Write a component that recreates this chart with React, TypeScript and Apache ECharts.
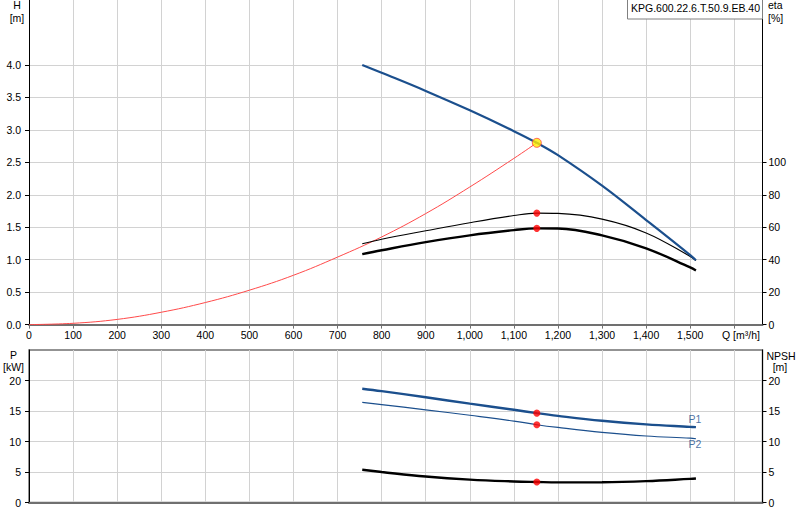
import React, { useEffect, useRef } from "react";
import * as echarts from "echarts";

// ---- data ----
const qPump = [756, 800, 900, 1000, 1100, 1152, 1200, 1300, 1400, 1500, 1513];
const headH = [4.0, 3.88, 3.6, 3.3, 2.98, 2.8, 2.61, 2.14, 1.61, 1.07, 0.99];
const etaUpper = [49.8, 52.6, 57.8, 62.8, 67.2, 68.7, 68.5, 65.0, 56.5, 42.0, 39.5];
const etaLower = [43.4, 45.8, 50.8, 55.0, 58.2, 59.3, 59.2, 55.0, 47.0, 35.2, 33.3];
const powerP1 = [18.65, 18.25, 17.25, 16.2, 15.2, 14.65, 14.2, 13.4, 12.8, 12.4, 12.35];
const powerP2 = [16.4, 16.05, 15.2, 14.3, 13.35, 12.75, 12.3, 11.5, 10.9, 10.55, 10.45];
const npshR = [5.36, 5.0, 4.26, 3.75, 3.45, 3.36, 3.3, 3.32, 3.5, 3.88, 3.94];

const qSystem = [0, 100, 200, 300, 400, 500, 600, 700, 800, 900, 1000, 1100, 1152];
const hSystem = [0, 0.02, 0.08, 0.19, 0.34, 0.53, 0.76, 1.04, 1.35, 1.71, 2.12, 2.56, 2.8];

const opQ = 1152;
const opH = 2.8;
const opEtaUpper = 68.7;
const opEtaLower = 59.3;
const opP1 = 14.65;
const opP2 = 12.75;
const opNpsh = 3.36;

const qTickLabels = [0, 100, 200, 300, 400, 500, 600, 700, 800, 900, 1000, 1100, 1200, 1300, 1400, 1500];
const qTicks = [...qTickLabels, 1600];
const hTicks = [0, 0.5, 1.0, 1.5, 2.0, 2.5, 3.0, 3.5, 4.0];
const etaTicks = [0, 20, 40, 60, 80, 100];
const pTicks = [0, 5, 10, 15, 20];
const npshTicks = [0, 5, 10, 15, 20];

const pumpName = "KPG.600.22.6.T.50.9.EB.40";

const FONT = '"Liberation Sans", Arial, sans-serif';
const FS = 10.5;
const BLUE = "#1b4f8d";
const GRID = "#d2d2d2";
const AXIS_GRAY = "#707070";

const zip = (xs: number[], ys: number[]) => xs.map((x, i) => [x, ys[i]]);

export default function App() {
  const ref = useRef<HTMLDivElement>(null);

  useEffect(() => {
    if (!ref.current) return;
    const chart = echarts.init(ref.current, undefined, { renderer: "svg" });

    const labelStyle = { color: "#000", fontFamily: FONT, fontSize: FS };

    const option: any = {
      animation: false,
      backgroundColor: "#fff",
      grid: [
        { left: 29, right: 37.5, top: 0, height: 324.6, show: false },
        {
          left: 29,
          right: 37.5,
          top: 350,
          height: 152.5,
          show: true,
          borderColor: AXIS_GRAY,
          borderWidth: 1.5,
          backgroundColor: "transparent",
        },
      ],
      xAxis: [
        {
          type: "value",
          gridIndex: 0,
          min: 0,
          max: 1664,
          interval: 100,
          axisLine: { show: true, onZero: false, lineStyle: { color: AXIS_GRAY, width: 2 } },
          axisTick: { show: true, length: 4, customValues: qTicks, lineStyle: { color: AXIS_GRAY } },
          axisLabel: {
            ...labelStyle,
            margin: 5,
            customValues: qTickLabels,
            formatter: (v: number) => v.toLocaleString("en-US"),
          },
          splitLine: { show: true, lineStyle: { color: GRID, width: 1 } },
        },
        {
          type: "value",
          gridIndex: 1,
          min: 0,
          max: 1664,
          interval: 100,
          axisLine: { show: true, onZero: false, lineStyle: { color: AXIS_GRAY, width: 2 } },
          axisTick: { show: false },
          axisLabel: { show: false },
          splitLine: { show: true, lineStyle: { color: GRID, width: 1 } },
        },
      ],
      yAxis: [
        {
          type: "value",
          gridIndex: 0,
          position: "left",
          min: 0,
          max: 5,
          interval: 0.5,
          axisLine: { show: true, onZero: false, lineStyle: { color: "#000", width: 1 } },
          axisTick: { show: true, length: 4, customValues: hTicks, lineStyle: { color: "#000" } },
          axisLabel: {
            ...labelStyle,
            margin: 8,
            customValues: hTicks,
            formatter: (v: number) => v.toFixed(1),
          },
          splitLine: { show: true, lineStyle: { color: GRID, width: 1 } },
        },
        {
          type: "value",
          gridIndex: 0,
          position: "right",
          min: 0,
          max: 200,
          interval: 20,
          axisLine: { show: true, onZero: false, lineStyle: { color: "#000", width: 1 } },
          axisTick: { show: true, length: 4, customValues: etaTicks, lineStyle: { color: "#000" } },
          axisLabel: { ...labelStyle, margin: 6, customValues: etaTicks },
          splitLine: { show: false },
        },
        {
          type: "value",
          gridIndex: 1,
          position: "left",
          min: 0,
          max: 25,
          interval: 5,
          axisLine: { show: true, onZero: false, lineStyle: { color: "#000", width: 1 } },
          axisTick: { show: true, length: 4, customValues: pTicks, lineStyle: { color: "#000" } },
          axisLabel: { ...labelStyle, margin: 8, customValues: pTicks },
          splitLine: { show: true, lineStyle: { color: GRID, width: 1 } },
        },
        {
          type: "value",
          gridIndex: 1,
          position: "right",
          min: 0,
          max: 25,
          interval: 5,
          axisLine: { show: true, onZero: false, lineStyle: { color: "#000", width: 1 } },
          axisTick: { show: true, length: 4, customValues: npshTicks, lineStyle: { color: "#000" } },
          axisLabel: { ...labelStyle, margin: 6, customValues: npshTicks },
          splitLine: { show: false },
        },
      ],
      series: [
        {
          name: "system",
          type: "line",
          xAxisIndex: 0,
          yAxisIndex: 0,
          data: zip(qSystem, hSystem),
          smooth: 0.4,
          showSymbol: false,
          lineStyle: { color: "#ff4a4a", width: 1 },
          z: 3,
        },
        {
          name: "H",
          type: "line",
          xAxisIndex: 0,
          yAxisIndex: 0,
          data: zip(qPump, headH),
          smooth: 0.4,
          showSymbol: false,
          lineStyle: { color: BLUE, width: 2.2 },
          z: 4,
        },
        {
          name: "eta1",
          type: "line",
          xAxisIndex: 0,
          yAxisIndex: 1,
          data: zip(qPump, etaUpper),
          smooth: 0.4,
          showSymbol: false,
          lineStyle: { color: "#000", width: 1.1 },
          z: 3,
        },
        {
          name: "eta2",
          type: "line",
          xAxisIndex: 0,
          yAxisIndex: 1,
          data: zip(qPump, etaLower),
          smooth: 0.4,
          showSymbol: false,
          lineStyle: { color: "#000", width: 2.4 },
          z: 3,
        },
        {
          name: "opEta",
          type: "scatter",
          xAxisIndex: 0,
          yAxisIndex: 1,
          data: [
            [opQ, opEtaUpper],
            [opQ, opEtaLower],
          ],
          symbolSize: 7,
          itemStyle: { color: "#ff0000" },
          z: 6,
        },
        {
          name: "opH",
          type: "scatter",
          xAxisIndex: 0,
          yAxisIndex: 0,
          data: [[opQ, opH]],
          symbolSize: 9,
          itemStyle: { color: "#ffee00", borderColor: "#ff4040", borderWidth: 1 },
          z: 7,
        },
        {
          name: "P1",
          type: "line",
          xAxisIndex: 1,
          yAxisIndex: 2,
          data: zip(qPump, powerP1),
          smooth: 0.4,
          showSymbol: false,
          lineStyle: { color: BLUE, width: 2.4 },
          z: 4,
        },
        {
          name: "P2",
          type: "line",
          xAxisIndex: 1,
          yAxisIndex: 2,
          data: zip(qPump, powerP2),
          smooth: 0.4,
          showSymbol: false,
          lineStyle: { color: BLUE, width: 1.2 },
          z: 4,
        },
        {
          name: "NPSH",
          type: "line",
          xAxisIndex: 1,
          yAxisIndex: 3,
          data: zip(qPump, npshR),
          smooth: 0.4,
          showSymbol: false,
          lineStyle: { color: "#000", width: 2.4 },
          z: 4,
        },
        {
          name: "opP",
          type: "scatter",
          xAxisIndex: 1,
          yAxisIndex: 2,
          data: [
            [opQ, opP1],
            [opQ, opP2],
          ],
          symbolSize: 7,
          itemStyle: { color: "#ff0000" },
          z: 6,
        },
        {
          name: "opNpsh",
          type: "scatter",
          xAxisIndex: 1,
          yAxisIndex: 3,
          data: [[opQ, opNpsh]],
          symbolSize: 7,
          itemStyle: { color: "#ff0000" },
          z: 6,
        },
        {
          name: "curveLabels",
          type: "scatter",
          xAxisIndex: 1,
          yAxisIndex: 2,
          symbolSize: 0,
          silent: true,
          data: [
            {
              value: [qPump[qPump.length - 1], powerP1[powerP1.length - 1]],
              label: { show: true, position: "top", distance: 3, formatter: "P1" },
            },
            {
              value: [qPump[qPump.length - 1], powerP2[powerP2.length - 1]],
              label: { show: true, position: "bottom", distance: 0, formatter: "P2" },
            },
          ],
          label: { color: BLUE, fontFamily: FONT, fontSize: FS, offset: [-1, 0] },
          z: 6,
        },
      ],
      graphic: [
        {
          type: "rect",
          shape: { x: 627.5, y: -1, width: 135, height: 20 },
          style: { fill: "#fff", stroke: "#808080", lineWidth: 1 },
          z: 100,
        },
        {
          type: "text",
          x: 631,
          y: 8,
          style: { text: pumpName, fill: "#000", font: `${FS}px ${FONT}`, verticalAlign: "middle", align: "left" },
          z: 101,
        },
        {
          type: "text",
          x: 17,
          y: 5,
          style: { text: "H", fill: "#000", font: `${FS}px ${FONT}`, align: "center", verticalAlign: "middle" },
        },
        {
          type: "text",
          x: 17,
          y: 17.5,
          style: { text: "[m]", fill: "#000", font: `${FS}px ${FONT}`, align: "center", verticalAlign: "middle" },
        },
        {
          type: "text",
          x: 768,
          y: 5,
          style: { text: "eta", fill: "#000", font: `${FS}px ${FONT}`, align: "left", verticalAlign: "middle" },
        },
        {
          type: "text",
          x: 768,
          y: 17.5,
          style: { text: "[%]", fill: "#000", font: `${FS}px ${FONT}`, align: "left", verticalAlign: "middle" },
        },
        {
          type: "text",
          x: 722,
          y: 335,
          style: { text: "Q [m³/h]", fill: "#000", font: `${FS}px ${FONT}`, align: "left", verticalAlign: "middle" },
        },
        {
          type: "text",
          x: 13.5,
          y: 355,
          style: { text: "P", fill: "#000", font: `${FS}px ${FONT}`, align: "center", verticalAlign: "middle" },
        },
        {
          type: "text",
          x: 13.5,
          y: 366.5,
          style: { text: "[kW]", fill: "#000", font: `${FS}px ${FONT}`, align: "center", verticalAlign: "middle" },
        },
        {
          type: "text",
          x: 781,
          y: 355.5,
          style: { text: "NPSH", fill: "#000", font: `${FS}px ${FONT}`, align: "center", verticalAlign: "middle" },
        },
        {
          type: "text",
          x: 780,
          y: 366.5,
          style: { text: "[m]", fill: "#000", font: `${FS}px ${FONT}`, align: "center", verticalAlign: "middle" },
        },
      ],
    };

    chart.setOption(option);
    return () => chart.dispose();
  }, []);

  return (
    <div
      ref={ref}
      style={{ position: "absolute", left: 0, top: 0, width: 800, height: 520, background: "#fff" }}
    />
  );
}
